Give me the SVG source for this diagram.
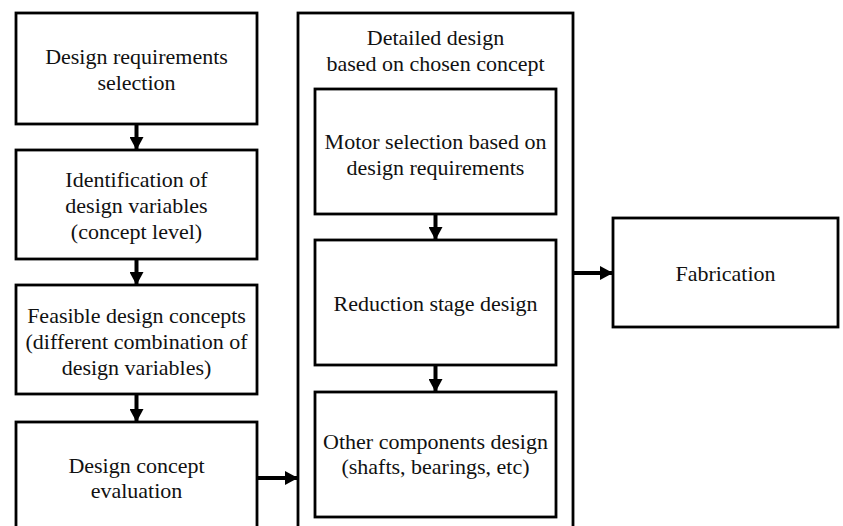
<svg xmlns="http://www.w3.org/2000/svg" width="843" height="526" viewBox="0 0 843 526">
<style>
.box{fill:#fff;stroke:#000;stroke-width:2.8}
.ln{stroke:#000;stroke-width:4;fill:none}
</style>
<defs>
<marker id="ah" markerWidth="13" markerHeight="14" refX="13" refY="7" orient="auto" markerUnits="userSpaceOnUse">
<path d="M0,0 L13,7 L0,14 Z" fill="#000"/>
</marker>
</defs>
<rect width="843" height="526" fill="#fff"/>
<g font-family="Liberation Serif, Times New Roman, serif" font-size="22" fill="#111" text-anchor="middle">
<g id="n1"><rect class="box" x="16" y="13" width="241" height="111"/>
<text x="136.5" y="64">Design requirements</text><text x="136.5" y="90">selection</text></g>
<g id="n2"><rect class="box" x="16" y="150" width="241" height="109"/>
<text x="136.5" y="187">Identification of</text><text x="136.5" y="213">design variables</text><text x="136.5" y="239">(concept level)</text></g>
<g id="n3"><rect class="box" x="16" y="285" width="241" height="109"/>
<text x="136.5" y="323">Feasible design concepts</text><text x="136.5" y="349">(different combination of</text><text x="136.5" y="375">design variables)</text></g>
<g id="n4"><rect class="box" x="16" y="422" width="241" height="120"/>
<text x="136.5" y="473">Design concept</text><text x="136.5" y="498">evaluation</text></g>
<g id="detail"><rect class="box" x="298" y="13" width="275" height="530"/>
<text x="435.5" y="45">Detailed design</text><text x="435.5" y="71">based on chosen concept</text></g>
<g id="motor"><rect class="box" x="315" y="89" width="241" height="125"/>
<text x="435.5" y="149">Motor selection based on</text><text x="435.5" y="175">design requirements</text></g>
<g id="reduction"><rect class="box" x="315" y="240" width="241" height="125"/>
<text x="435.5" y="311">Reduction stage design</text></g>
<g id="other"><rect class="box" x="315" y="392" width="241" height="125"/>
<text x="435.5" y="449">Other components design</text><text x="435.5" y="474">(shafts, bearings, etc)</text></g>
<g id="fab"><rect class="box" x="613" y="218" width="225" height="109"/>
<text x="725.5" y="281">Fabrication</text></g>
</g>
<g id="connectors">
<line class="ln" x1="136.5" y1="124" x2="136.5" y2="150" marker-end="url(#ah)"/>
<line class="ln" x1="136.5" y1="259" x2="136.5" y2="285" marker-end="url(#ah)"/>
<line class="ln" x1="136.5" y1="394" x2="136.5" y2="422" marker-end="url(#ah)"/>
<line class="ln" x1="257" y1="478" x2="298" y2="478" marker-end="url(#ah)"/>
<line class="ln" x1="435.5" y1="214" x2="435.5" y2="240" marker-end="url(#ah)"/>
<line class="ln" x1="435.5" y1="365" x2="435.5" y2="392" marker-end="url(#ah)"/>
<line class="ln" x1="573" y1="273" x2="613" y2="273" marker-end="url(#ah)"/>
</g>
</svg>
